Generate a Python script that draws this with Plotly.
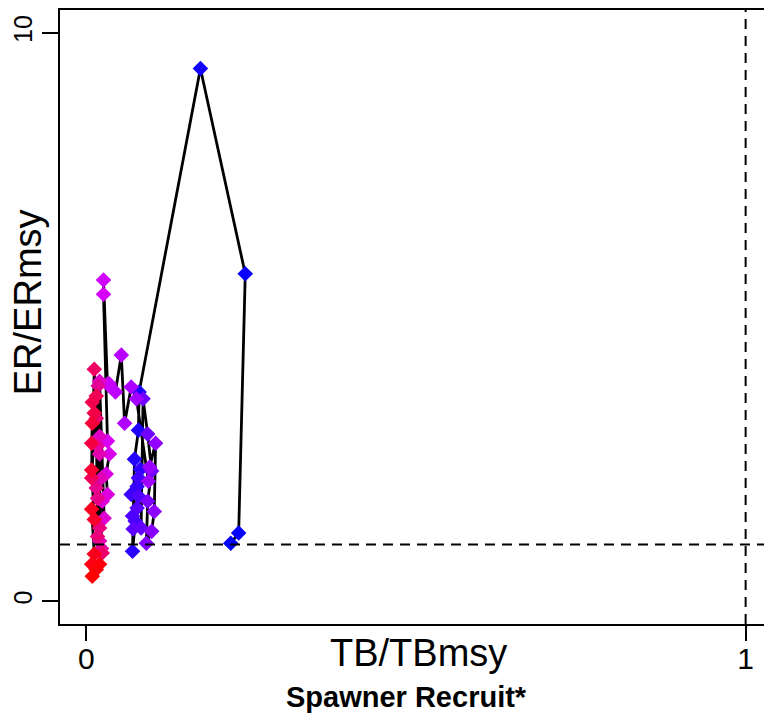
import plotly.graph_objects as go

# TB/TBmsy (x) and ER/ERmsy (y), in time order (early -> late)
tb_ratio = [0.219, 0.231, 0.241, 0.173, 0.080, 0.079, 0.073, 0.070, 0.082, 0.077,
            0.068, 0.079, 0.074, 0.070, 0.079, 0.077, 0.071, 0.083, 0.086, 0.093,
            0.099, 0.093, 0.091, 0.099, 0.103, 0.105, 0.096, 0.094, 0.076, 0.068,
            0.058, 0.053, 0.044, 0.035, 0.032, 0.026, 0.026, 0.032, 0.035, 0.030,
            0.032, 0.024, 0.027, 0.020, 0.020, 0.023, 0.020, 0.020, 0.023, 0.017,
            0.018, 0.015, 0.017, 0.020, 0.017, 0.015, 0.024, 0.012, 0.008, 0.015,
            0.009, 0.012, 0.008, 0.009, 0.008, 0.012, 0.008, 0.012, 0.008, 0.020,
            0.015, 0.009]
er_ratio = [1.02, 1.20, 5.76, 9.37, 3.68, 3.01, 2.50, 0.88, 2.32, 2.02,
            1.88, 2.17, 1.41, 1.50, 1.85, 1.64, 1.27, 1.29, 3.56, 2.94,
            2.29, 1.76, 1.02, 1.23, 1.58, 2.78, 2.36, 2.11, 3.56, 3.77,
            3.13, 4.33, 3.68, 3.82, 3.82, 5.65, 5.40, 2.82, 2.59, 2.24,
            1.88, 1.76, 1.46, 3.87, 2.90, 2.17, 2.59, 1.06, 0.93, 2.73,
            3.79, 1.99, 1.81, 1.29, 1.14, 3.22, 0.85, 4.08, 2.17, 3.61,
            3.50, 3.31, 2.78, 3.13, 2.31, 1.44, 1.62, 0.83, 0.65, 0.65,
            0.56, 0.44]

x_ticks = [0, 1]
y_ticks = [0, 10]
ref_x = 1
ref_y = 1

n = len(tb_ratio)
colors = []
for i in range(n):
    t = i / (n - 1)
    if t < 0.5:
        r, b = int(420 * t), 255
    else:
        r, b = 215 + int(80 * (t - 0.5)), int(255 * (1 - t) * 2)
    colors.append(f"rgb({min(r,255)},0,{b})")

fig = go.Figure()
fig.add_trace(go.Scatter(
    x=tb_ratio, y=er_ratio, mode="lines+markers",
    line=dict(color="black", width=2.8),
    marker=dict(symbol="diamond", size=12, color=colors, line=dict(width=0)),
    showlegend=False, hoverinfo="skip"))

fig.add_shape(type="line", xref="paper", yref="y", x0=0, x1=1, y0=ref_y, y1=ref_y,
              line=dict(color="black", width=2, dash="10px,7px"))
fig.add_shape(type="line", xref="x", yref="paper", x0=ref_x, x1=ref_x, y0=0, y1=1,
              line=dict(color="black", width=2, dash="10px,7px"))

font_family = "Liberation Sans, Arial, sans-serif"
fig.update_layout(
    width=764, height=715,
    margin=dict(l=52, r=0, t=2, b=99),
    plot_bgcolor="white", paper_bgcolor="white",
    font=dict(family=font_family, color="black"),
    xaxis=dict(range=[-0.04, 1.04], tickvals=x_ticks, ticktext=[str(v) for v in x_ticks],
               showgrid=False, zeroline=False, showline=True, linecolor="black",
               linewidth=2, mirror=True, ticks="outside", ticklen=15, tickwidth=2,
               tickcolor="black", tickfont=dict(size=30), automargin=False,
               ticklabelstandoff=-8),
    yaxis=dict(range=[-0.4, 10.4], tickvals=y_ticks, ticktext=[str(v) for v in y_ticks],
               showgrid=False, zeroline=False, showline=True, linecolor="black",
               linewidth=2, ticks="outside", ticklen=16, tickwidth=2,
               tickcolor="black", tickangle=-90, tickfont=dict(size=25),
               automargin=False),
)

fig.add_annotation(text="TB/TBmsy", xref="paper", yref="paper", x=0.503, y=-0.047,
                   yanchor="middle", showarrow=False, font=dict(size=38))
fig.add_annotation(text="ER/ERmsy", xref="paper", yref="paper", x=-0.045, y=0.524,
                   xanchor="center", yanchor="middle", textangle=-90,
                   showarrow=False, font=dict(size=38))
fig.add_annotation(text="<b>Spawner Recruit*</b>", xref="paper", yref="paper",
                   x=0.486, y=-0.119, yanchor="middle", showarrow=False,
                   font=dict(size=29))

fig.write_html("out.html")
